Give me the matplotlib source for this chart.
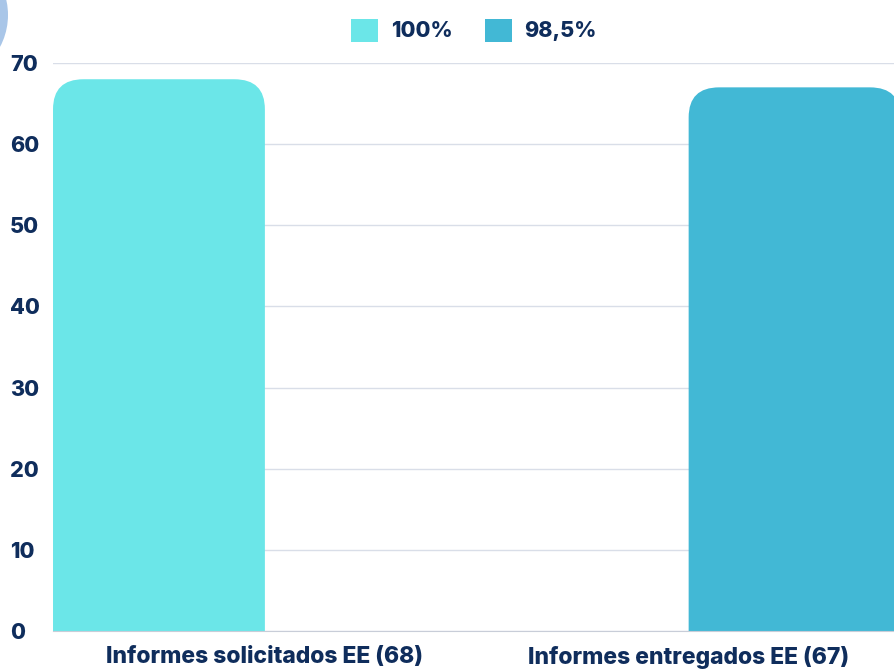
import numpy as np
import matplotlib
matplotlib.use("Agg")
import matplotlib.pyplot as plt
from matplotlib.patches import FancyBboxPatch, Circle, Patch

plt.rcParams['font.family'] = ['Inter', 'DejaVu Sans']

# Data
categories = ["Informes solicitados EE (68)", "Informes entregados EE (67)"]
series_names = ["100%", "98,5%"]
series_values = [[68, 0], [0, 67]]
colors = ["#6BE6E8", "#42B8D5"]
yticks = [0, 10, 20, 30, 40, 50, 60, 70]

text_color = "#0F2D5C"
grid_color = "#D9DEE8"
weight = "heavy"

fig = plt.figure(figsize=(8.94, 6.71), dpi=100)
ax = fig.add_axes([0.0593, 0.0596, 0.948, 0.8465])

x = np.arange(len(categories))
width = 0.5
offsets = [-0.25, 0.25]

rx = 0.072
ry = 3.7
for vals, off, c in zip(series_values, offsets, colors):
    bars = ax.bar(x + off, vals, width, color=c, zorder=2)
    for b in bars:
        b.set_visible(False)
        h = b.get_height()
        if h <= 0:
            continue
        p = FancyBboxPatch((b.get_x(), -ry), b.get_width(), h + ry,
                           boxstyle=f"round,pad=0,rounding_size={rx}",
                           mutation_aspect=ry / rx, facecolor=c,
                           edgecolor="none", zorder=2)
        p.set_clip_path(ax.patch)
        ax.add_patch(p)

ax.set_xlim(-0.5, 1.5)
ax.set_ylim(0, 70)
ax.set_yticks(yticks)
ax.set_yticklabels([str(t) for t in yticks], fontsize=15.5, fontweight=weight,
                   color=text_color, ha="left")
ax.tick_params(axis="y", length=0, pad=31)
ax.set_xticks(x)
ax.set_xticklabels(categories, fontsize=16.5, fontweight=weight, color=text_color)
ax.tick_params(axis="x", length=0, pad=11)

ax.grid(axis="y", color=grid_color, linewidth=1, zorder=1)
ax.set_axisbelow(True)
for s in ["top", "right", "left"]:
    ax.spines[s].set_visible(False)
ax.spines["bottom"].set_color("#C8CDD8")
ax.spines["bottom"].set_zorder(3)

handles = [Patch(facecolor=c, edgecolor="none") for c in colors]
leg = fig.legend(handles, series_names, loc="center", bbox_to_anchor=(0.53, 0.955),
                 ncol=2, frameon=False, handlelength=1.25, handleheight=1.25,
                 columnspacing=1.5, handletextpad=0.6,
                 prop={"size": 15.5, "weight": weight})
for t in leg.get_texts():
    t.set_color(text_color)

# decorative circle in the corner
circ = Circle((0, 0), 1, facecolor="#A9C6E8", edgecolor="none")
circ.set_transform(fig.dpi_scale_trans)
circ.center = (-0.60, 6.56)
circ.radius = 0.68
fig.patches.append(circ)

fig.savefig("out.png", dpi=100)
